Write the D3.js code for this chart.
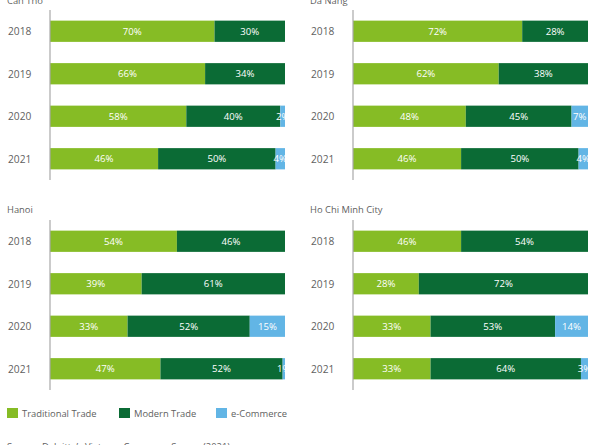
<!DOCTYPE html>
<html><head><meta charset="utf-8">
<script src="https://cdn.jsdelivr.net/npm/d3@7"></script>
<style>
html,body{margin:0;padding:0;background:#fff;}
svg{display:block;font-family:"Open Sans",sans-serif;}
</style></head>
<body>
<svg id="chart" width="600" height="445"></svg>
<script>
const years = ["2018","2019","2020","2021"];
const seriesNames = ["Traditional Trade","Modern Trade","e-Commerce"];
const cities = ["Can Tho","Da Nang","Hanoi","Ho Chi Minh City"];
const canTho = [[70,30,0],[66,34,0],[58,40,2],[46,50,4]];
const daNang = [[72,28,0],[62,38,0],[48,45,7],[46,50,4]];
const hanoi = [[54,46,0],[39,61,0],[33,52,15],[47,52,1]];
const hcmc = [[46,54,0],[28,72,0],[33,53,14],[33,64,3]];
const cityValues = [canTho, daNang, hanoi, hcmc];
const colors = ["#86bc25","#0b6b35","#62b5e5"];
const sourceText = "Source: Deloitte\u2019s Vietnam Consumer Survey (2021)";

const svg = d3.select("#chart");
const panels = [
  {x0:50, y0:10, tx:7, ty:4},
  {x0:353, y0:10, tx:310, ty:4},
  {x0:50, y0:220, tx:7, ty:213},
  {x0:353, y0:220, tx:310, ty:213}
];
const textColor = "#5f5f5f";

panels.forEach((p, i) => {
  const vals = cityValues[i];
  const x = d3.scaleLinear().domain([0,100]).range([p.x0, p.x0 + 235]);
  const y = d3.scaleBand().domain(years).range([p.y0, p.y0 + 170]).paddingInner(0.5).paddingOuter(0.25);
  const g = svg.append("g");
  const clipId = "clip" + i;
  svg.append("clipPath").attr("id", clipId).append("rect")
    .attr("x", x(0)).attr("y", p.y0).attr("width", x(100) - x(0)).attr("height", 170);

  g.append("text").attr("x", p.tx).attr("y", p.ty).attr("fill", textColor)
    .attr("font-size", 9.4).text(cities[i]);

  years.forEach((yr, j) => {
    const row = vals[j];
    let cum = 0;
    row.forEach((v, k) => {
      if (v <= 0) return;
      const s = cum; cum += v;
      g.append("rect").attr("x", x(s)).attr("y", y(yr))
        .attr("width", x(cum) - x(s)).attr("height", y.bandwidth()).attr("fill", colors[k]);
      g.append("text").attr("clip-path", `url(#${clipId})`)
        .attr("x", (x(s) + x(cum)) / 2).attr("y", y(yr) + y.bandwidth() / 2)
        .attr("text-anchor", "middle").attr("dominant-baseline", "central")
        .attr("fill", "#fff").attr("font-size", 9.6).text(v + "%");
    });
    g.append("text").attr("x", p.tx + 1).attr("y", y(yr) + y.bandwidth() / 2)
      .attr("dominant-baseline", "central").attr("fill", textColor)
      .attr("font-size", 10.2).text(yr);
  });

  g.append("line").attr("x1", x(0)).attr("x2", x(0))
    .attr("y1", p.y0).attr("y2", p.y0 + 170)
    .attr("stroke", "#a8a8a8").attr("stroke-width", 1.2);
});

const legendX = [7, 119, 216];
const lg = svg.append("g");
seriesNames.forEach((n, k) => {
  lg.append("rect").attr("x", legendX[k]).attr("y", 408).attr("width", 11).attr("height", 10).attr("fill", colors[k]);
  lg.append("text").attr("x", legendX[k] + 15).attr("y", 413).attr("dominant-baseline", "central")
    .attr("fill", textColor).attr("font-size", 9.4).text(n);
});

svg.append("text").attr("x", 7).attr("y", 450).attr("fill", textColor)
  .attr("font-size", 9.4).text(sourceText);
</script>
</body></html>
